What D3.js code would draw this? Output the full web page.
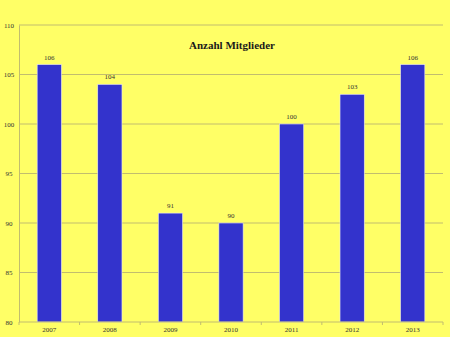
<!DOCTYPE html>
<html>
<head>
<meta charset="utf-8">
<script src="https://cdn.jsdelivr.net/npm/d3@7"></script>
<style>
  body { margin:0; background:#ffff66; }
  svg { display:block; }
</style>
</head>
<body>
<svg id="chart" width="450" height="337"></svg>
<script>
var years = ["2007","2008","2009","2010","2011","2012","2013"];
var members = [106, 104, 91, 90, 100, 103, 106];
var yTicks = [80, 85, 90, 95, 100, 105, 110];

var svg = d3.select("#chart");
var W = 450, H = 337;
var mLeft = 19, mRight = 443, mTop = 25, mBottom = 322;

svg.append("rect").attr("width", W).attr("height", H).attr("fill", "#ffff66");

var x = d3.scaleBand().domain(years).range([mLeft, mRight]).paddingInner(0.6).paddingOuter(0.3);
var y = d3.scaleLinear().domain([80, 110]).range([mBottom, mTop]);

// gridlines
svg.append("g")
  .selectAll("line")
  .data(yTicks.slice(1))
  .join("line")
  .attr("x1", mLeft).attr("x2", mRight)
  .attr("y1", function(d){ return y(d); })
  .attr("y2", function(d){ return y(d); })
  .attr("stroke", "#c2bd6e")
  .attr("stroke-width", 1);

// y axis
var yAxis = d3.axisLeft(y).tickValues(yTicks).tickSize(0).tickPadding(5);
var gy = svg.append("g").attr("transform", "translate(" + mLeft + ",0)").call(yAxis);
gy.select(".domain").attr("stroke", "#c2bd6e");
gy.selectAll("text")
  .attr("font-family", "'Liberation Serif', serif")
  .attr("font-size", 7)
  .attr("fill", "#333")
  .attr("text-anchor", "middle")
  .attr("x", -10);

// bars
svg.append("g")
  .selectAll("rect")
  .data(members)
  .join("rect")
  .attr("x", function(d, i){ return x(years[i]); })
  .attr("width", x.bandwidth())
  .attr("y", function(d){ return y(d); })
  .attr("height", function(d){ return mBottom - y(d); })
  .attr("fill", "#3333cc")
  .attr("stroke", "#e8e8f0")
  .attr("stroke-width", 0.6);

// value labels
svg.append("g")
  .selectAll("text")
  .data(members)
  .join("text")
  .attr("x", function(d, i){ return x(years[i]) + x.bandwidth() / 2; })
  .attr("y", function(d){ return y(d) - 5; })
  .attr("text-anchor", "middle")
  .attr("font-family", "'Liberation Serif', serif")
  .attr("font-size", 7)
  .attr("fill", "#333")
  .text(function(d){ return d; });

// x axis
var step = (mRight - mLeft) / years.length;
var gx = svg.append("g").attr("transform", "translate(0," + mBottom + ")");
gx.append("line").attr("x1", mLeft).attr("x2", mRight).attr("stroke", "#c2bd6e");
gx.selectAll(".tk")
  .data(d3.range(years.length + 1))
  .join("line")
  .attr("class", "tk")
  .attr("x1", function(i){ return mLeft + i * step; })
  .attr("x2", function(i){ return mLeft + i * step; })
  .attr("y1", 0).attr("y2", 3)
  .attr("stroke", "#c2bd6e");
gx.selectAll("text")
  .data(years)
  .join("text")
  .attr("x", function(d){ return x(d) + x.bandwidth() / 2; })
  .attr("y", 10)
  .attr("text-anchor", "middle")
  .attr("font-family", "'Liberation Serif', serif")
  .attr("font-size", 7)
  .attr("fill", "#333")
  .text(function(d){ return d; });

// title
svg.append("text")
  .attr("x", 232).attr("y", 49)
  .attr("text-anchor", "middle")
  .attr("font-family", "'Liberation Serif', serif")
  .attr("font-weight", "bold")
  .attr("font-size", 11)
  .attr("fill", "#1a1a1a")
  .text("Anzahl Mitglieder");
</script>
</body>
</html>
